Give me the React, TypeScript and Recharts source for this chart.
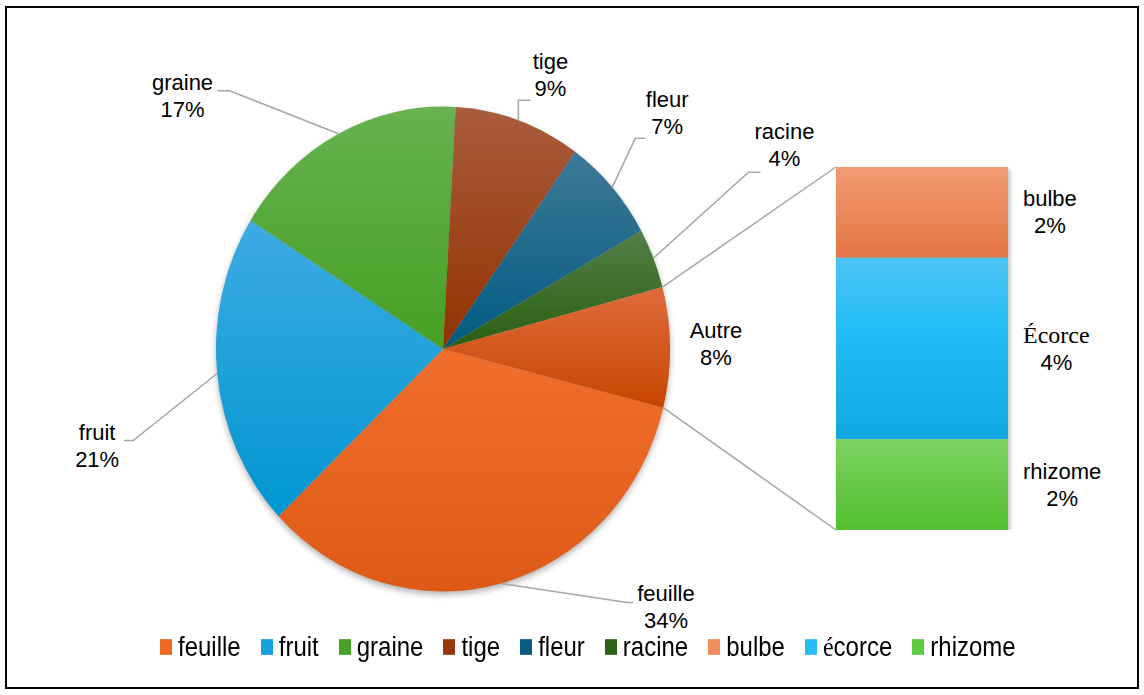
import { PieChart, Pie, Cell, Sector, BarChart, Bar, XAxis, YAxis, Legend } from "recharts";

// Main pie, clockwise from the lower right; "Autre" is split out in the side bar.
const MAIN_NAMES = ["feuille", "fruit", "graine", "tige", "fleur", "racine", "Autre"];
const MAIN_VALUES = [34, 21, 17, 9, 7, 4, 8];

// Breakdown of "Autre", top to bottom.
const SUB_NAMES = ["bulbe", "Écorce", "rhizome"];
const SUB_VALUES = [2, 4, 2];

const LEGEND_NAMES = ["feuille", "fruit", "graine", "tige", "fleur", "racine", "bulbe", "écorce", "rhizome"];

// top -> bottom gradient stops
const MAIN_GRADS = [
  ["#F26E2D", "#DC5A16"],
  ["#3EABE2", "#0096D0"],
  ["#68B250", "#45A023"],
  ["#A95C3E", "#923200"],
  ["#407997", "#005A80"],
  ["#547F48", "#2A5E12"],
  ["#DF6C3E", "#C84500"],
];
const SUB_GRADS = [
  ["#F19B72", "#E37644"],
  ["#4EC3F2", "#11A8E1"],
  ["#7CD263", "#54BF2F"],
];
const LEGEND_COLORS = ["#EF6A27", "#14A1DC", "#45A127", "#963A0C", "#075B80", "#2D6118", "#EF8D5C", "#25BDF4", "#5FCB40"];

const SANS = '"Liberation Sans", Arial, sans-serif';
const SERIF = '"Liberation Serif", "Times New Roman", serif';
const LINE_COLOR = "#A6A6A6";
const FONT_SIZE = 22;
const LINE_GAP = 27;

const W = 1144;
const H = 695;
const CX = 443;
const CY = 349;
const RX = 227;
const RY = 242.5;
const SY = RY / RX; // the pie is drawn slightly taller than wide
const START = -14;

const BAR_X = 836;
const BAR_Y = 167;
const BAR_W = 172;
const BAR_H = 363;
const BAR_LABEL_ROOM = 140;

// label block (centre x, first baseline) and leader elbow, relative to the slice's outer mid point
const LABEL_POS: Record<string, { dx: number; dy: number; leader?: number[][] }> = {
  feuille: { dx: 165, dy: 18, leader: [[126, 19], [132, 19]] },
  fruit: { dx: -120, dy: 66, leader: [[-84, 67], [-93, 67]] },
  graine: { dx: -156, dy: -44, leader: [[-109, -43], [-121, -43]] },
  tige: { dx: 32, dy: -51, leader: [[0, -20], [12, -20]] },
  fleur: { dx: 55, dy: -80, leader: [[23, -49], [33, -49]] },
  racine: { dx: 131, dy: -119, leader: [[95, -86], [107, -86]] },
  Autre: { dx: 46, dy: -9 },
};

const pieData = MAIN_NAMES.map((name, i) => ({ name, value: MAIN_VALUES[i] }));
const barRow: Record<string, string | number> = { cat: "Autre" };
SUB_NAMES.forEach((_, i) => (barRow["s" + i] = SUB_VALUES[i]));
const barData = [barRow];
const subTotal = SUB_VALUES.reduce((a, b) => a + b, 0);

let measureCtx: CanvasRenderingContext2D | null = null;
function textWidth(s: string, font: string) {
  if (!measureCtx) measureCtx = document.createElement("canvas").getContext("2d");
  if (!measureCtx) return s.length * 11;
  measureCtx.font = font;
  return measureCtx.measureText(s).width;
}

function ellipsePoint(cx: number, cy: number, r: number, angle: number) {
  const t = (-angle * Math.PI) / 180;
  return [cx + r * Math.cos(t), cy + r * SY * Math.sin(t)];
}

function EllipseSector(props: any) {
  const { cx, cy, innerRadius, outerRadius, startAngle, endAngle, fill } = props;
  const name = props.name ?? props.payload?.name;
  return (
    <g transform={`translate(0 ${cy}) scale(1 ${SY}) translate(0 ${-cy})`}>
      {name === MAIN_NAMES[0] && (
        <circle cx={cx} cy={cy + 3} r={outerRadius} fill="#000" opacity={0.3} filter="url(#pieShadow)" />
      )}
      <Sector
        cx={cx}
        cy={cy}
        innerRadius={innerRadius}
        outerRadius={outerRadius}
        startAngle={startAngle}
        endAngle={endAngle}
        fill={fill}
        stroke="none"
      />
    </g>
  );
}

function PieLabel(props: any) {
  const { cx, cy, midAngle, outerRadius, value, startAngle, endAngle } = props;
  const name = props.name ?? props.payload?.name;
  const lay = LABEL_POS[name];
  if (!lay) return null;
  const [ex, ey] = ellipsePoint(cx, cy, outerRadius, midAngle);
  const tx = ex + lay.dx;
  const ty = ey + lay.dy;
  let connectors = null;
  if (name === "Autre") {
    const [x1, y1] = ellipsePoint(cx, cy, outerRadius, startAngle);
    const [x2, y2] = ellipsePoint(cx, cy, outerRadius, endAngle);
    connectors = (
      <g stroke={LINE_COLOR} strokeWidth={1.5}>
        <line x1={x1} y1={y1} x2={BAR_X} y2={BAR_Y} />
        <line x1={x2} y1={y2} x2={BAR_X} y2={BAR_Y + BAR_H} />
      </g>
    );
  }
  return (
    <g>
      {lay.leader && (
        <polyline
          points={[[ex, ey], ...lay.leader.map(([a, b]) => [ex + a, ey + b])].map((p) => p.join(",")).join(" ")}
          fill="none"
          stroke={LINE_COLOR}
          strokeWidth={1.5}
        />
      )}
      {connectors}
      <text x={tx} y={ty} textAnchor="middle" fontFamily={SANS} fontSize={FONT_SIZE} fill="#000">
        <tspan x={tx}>{name}</tspan>
        <tspan x={tx} dy={LINE_GAP}>{value}%</tspan>
      </text>
    </g>
  );
}

// the y axis is reversed, so heights come in negative
function ShadowRect(props: any) {
  let { x, y, width, height } = props;
  if (height < 0) {
    y += height;
    height = -height;
  }
  if (width < 0) {
    x += width;
    width = -width;
  }
  return (
    <g>
      <rect x={x + 2} y={y + 2} width={width} height={height} fill="#000" opacity={0.25} filter="url(#barShadow)" />
      <rect x={x} y={y} width={width} height={height} fill={props.fill} />
    </g>
  );
}

function barLabel(i: number) {
  return (props: any) => {
    const { x, y, width, height } = props;
    const family = i === 1 ? SERIF : SANS;
    const size = i === 1 ? 24 : FONT_SIZE;
    const name = SUB_NAMES[i];
    const pct = `${SUB_VALUES[i]}%`;
    const wName = textWidth(name, `${size}px ${family}`);
    const wPct = textWidth(pct, `${FONT_SIZE}px ${SANS}`);
    const tx = x + width + 15 + Math.max(wName, wPct) / 2;
    const ty = y + height / 2 - 6;
    return (
      <text x={tx} y={ty} textAnchor="middle" fontSize={FONT_SIZE} fill="#000">
        <tspan x={tx} fontFamily={family} fontSize={size}>{name}</tspan>
        <tspan x={tx} dy={LINE_GAP} fontFamily={SANS}>{pct}</tspan>
      </text>
    );
  };
}

function LegendName({ name }: { name: string }) {
  // accented initials come out in the serif face
  if (/^[éÉ]/.test(name)) {
    return (
      <span>
        <span style={{ fontFamily: SERIF }}>{name[0]}</span>
        {name.slice(1)}
      </span>
    );
  }
  return <span>{name}</span>;
}

function ChartLegend() {
  return (
    <div
      style={{
        display: "flex",
        alignItems: "center",
        gap: 20,
        fontFamily: SANS,
        fontSize: 24,
        color: "#000",
        transform: "scaleY(1.12)",
      }}
    >
      {LEGEND_NAMES.map((n, i) => (
        <div key={n} style={{ display: "flex", alignItems: "center" }}>
          <span style={{ display: "inline-block", width: 12, height: 14, background: LEGEND_COLORS[i], marginRight: 6 }} />
          <LegendName name={n} />
        </div>
      ))}
    </div>
  );
}

export default function App() {
  return (
    <div style={{ position: "absolute", left: 0, top: 0, width: W, height: H, background: "#fff" }}>
      <div
        style={{
          position: "absolute",
          left: 5,
          top: 6,
          width: 1134,
          height: 683,
          border: "2px solid #000",
          boxSizing: "border-box",
        }}
      />
      <div style={{ position: "absolute", left: 0, top: 0 }}>
        <PieChart width={W} height={H} margin={{ top: 0, right: 0, bottom: 0, left: 0 }}>
          <defs>
            {MAIN_GRADS.map(([a, b], i) => (
              <linearGradient key={"m" + i} id={`main${i}`} x1="0" y1="0" x2="0" y2="1">
                <stop offset="0%" stopColor={a} />
                <stop offset="100%" stopColor={b} />
              </linearGradient>
            ))}
            {/* used by the side bar chart as well */}
            {SUB_GRADS.map(([a, b], i) => (
              <linearGradient key={"s" + i} id={`sub${i}`} x1="0" y1="0" x2="0" y2="1">
                <stop offset="0%" stopColor={a} />
                {i === 1 && <stop offset="40%" stopColor="#22BDF6" />}
                <stop offset="100%" stopColor={b} />
              </linearGradient>
            ))}
            <filter id="pieShadow" x="-10%" y="-10%" width="120%" height="120%">
              <feGaussianBlur stdDeviation="3" />
            </filter>
            <filter id="barShadow" x="-10%" y="-10%" width="120%" height="120%">
              <feGaussianBlur stdDeviation="2" />
            </filter>
          </defs>
          <Pie
            data={pieData}
            dataKey="value"
            nameKey="name"
            cx={CX}
            cy={CY}
            outerRadius={RX}
            startAngle={START}
            endAngle={START - 360}
            stroke="none"
            shape={EllipseSector}
            activeShape={EllipseSector}
            label={PieLabel}
            labelLine={false}
            isAnimationActive={false}
          >
            {pieData.map((d, i) => (
              <Cell key={d.name} fill={`url(#main${i})`} />
            ))}
          </Pie>
          <Legend content={<ChartLegend />} wrapperStyle={{ position: "absolute", left: 160, top: 633, width: "auto" }} />
        </PieChart>
      </div>
      <div style={{ position: "absolute", left: BAR_X, top: BAR_Y }}>
        <BarChart
          width={BAR_W + BAR_LABEL_ROOM}
          height={BAR_H}
          data={barData}
          margin={{ top: 0, right: BAR_LABEL_ROOM, bottom: 0, left: 0 }}
          barCategoryGap={0}
          style={{ overflow: "visible" }}
        >
          <XAxis dataKey="cat" type="category" hide />
          <YAxis type="number" domain={[0, subTotal]} reversed hide />
          {SUB_NAMES.map((n, i) => (
            <Bar
              key={n}
              dataKey={"s" + i}
              stackId="autre"
              fill={`url(#sub${i})`}
              shape={ShadowRect}
              label={barLabel(i)}
              isAnimationActive={false}
            />
          ))}
        </BarChart>
      </div>
    </div>
  );
}
